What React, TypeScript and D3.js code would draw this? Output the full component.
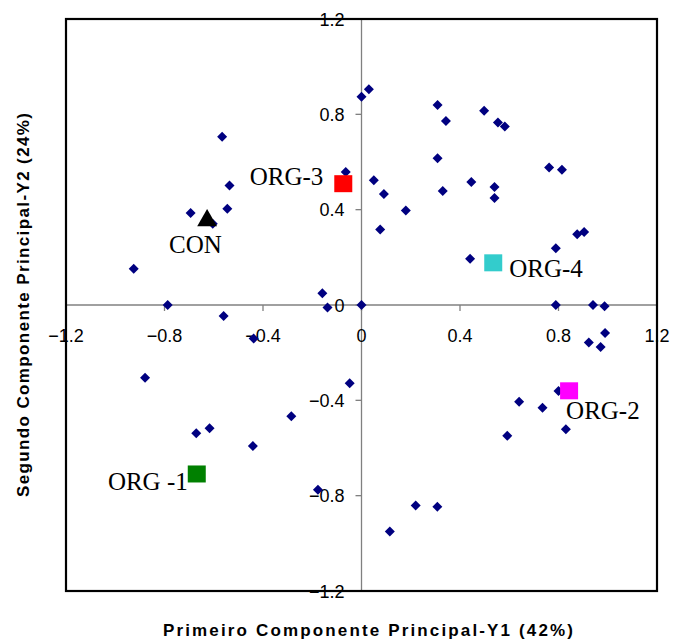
import * as d3 from 'd3';

// loadings (navy diamonds)
const loadX = [
  -0.566, -0.536, -0.545, -0.694, -0.604, -0.925, -0.787, -0.56, -0.159, -0.138,
  -0.064, 0, 0.03, 0.309, 0.343, 0.498, 0.554, 0.582, 0.309, 0.05,
  0.091, 0.18, 0.076, 0.33, 0.446, 0.54, 0.54, 0.762, 0.814, 0.876,
  0.904, 0.789, 0.441, 0, 0.789, 0.94, 0.987, -0.438, -0.879, -0.671,
  -0.617, -0.441, -0.285, -0.177, -0.048, 0.989, 0.923, 0.971, 0.8, 0.64,
  0.735, 0.83, 0.592, 0.22, 0.308, 0.115,
];
const loadY = [
  0.706, 0.501, 0.404, 0.386, 0.341, 0.152, 0, -0.046, 0.049, -0.01,
  0.558, 0.874, 0.905, 0.839, 0.772, 0.815, 0.766, 0.749, 0.616, 0.523,
  0.466, 0.396, 0.317, 0.478, 0.516, 0.495, 0.449, 0.577, 0.568, 0.297,
  0.306, 0.238, 0.194, 0, 0, 0, -0.005, -0.141, -0.305, -0.538,
  -0.517, -0.592, -0.467, -0.775, -0.328, -0.117, -0.157, -0.176, -0.361, -0.406,
  -0.431, -0.521, -0.549, -0.841, -0.846, -0.95,
];

// treatments
const groupNames = ['CON', 'ORG -1', 'ORG-2', 'ORG-3', 'ORG-4'];
const groupX = [-0.627, -0.669, 0.843, -0.074, 0.535];
const groupY = [0.359, -0.709, -0.36, 0.509, 0.177];
const groupColors = ['#000000', '#008000', '#ff00ff', '#ff0000', '#33cccc'];

const ticks = [-1.2, -0.8, -0.4, 0, 0.4, 0.8, 1.2];

const W = 674;
const H = 644;
const left = 66;
const right = 657;
const top = 19;
const bottom = 591;

export default function App() {
  const x = d3.scaleLinear().domain([-1.2, 1.2]).range([left, right]);
  const y = d3.scaleLinear().domain([-1.2, 1.2]).range([bottom, top]);
  const x0 = x(0);
  const y0 = y(0);
  const fmt = (v: number) => (v === 0 ? '0' : d3.format('.1f')(v));
  const diamond = 'M0,-5L5,0L0,5L-5,0Z';
  const tri = d3.symbol().type(d3.symbolTriangle).size(170)();

  // label placement relative to marker (dx, dy, anchor)
  const labelPos: [number, number, string][] = [
    [-38, 34, 'start'],
    [-9, 16, 'end'],
    [-3, 28, 'start'],
    [-20, 1, 'end'],
    [16, 14, 'start'],
  ];

  return (
    <svg
      width={W}
      height={H}
      viewBox={`0 0 ${W} ${H}`}
      style={{ position: 'absolute', left: 0, top: 0, background: '#fff' }}
    >
      {/* crossing axes */}
      <line x1={left} x2={right} y1={y0} y2={y0} stroke="#808080" strokeWidth={1.3} />
      <line x1={x0} x2={x0} y1={top} y2={bottom} stroke="#808080" strokeWidth={1.3} />
      {ticks.map((t) => (
        <g key={'tx' + t}>
          <line x1={x(t)} x2={x(t)} y1={y0} y2={y0 + 6} stroke="#808080" strokeWidth={1.3} />
          <line x1={x0 - 6} x2={x0} y1={y(t)} y2={y(t)} stroke="#808080" strokeWidth={1.3} />
        </g>
      ))}
      <g fontFamily="'Liberation Sans', Arial, sans-serif" fontSize={18} fill="#000">
        {ticks.map((t) => (
          <text key={'lx' + t} x={x(t)} y={y0 + 37} textAnchor="middle">
            {fmt(t)}
          </text>
        ))}
        {ticks.map((t) => (
          <text key={'ly' + t} x={x0 - 17} y={y(t) + 6.5} textAnchor="end">
            {fmt(t)}
          </text>
        ))}
      </g>

      {/* frame */}
      <rect x={left} y={top} width={right - left} height={bottom - top} fill="none" stroke="#000" strokeWidth={2.2} />

      {/* loadings */}
      {loadX.map((v, i) => (
        <path key={'p' + i} d={diamond} transform={`translate(${x(v)},${y(loadY[i])})`} fill="#000080" />
      ))}

      {/* treatments */}
      {groupNames.map((n, i) =>
        i === 0 ? (
          <path key={n} d={tri!} transform={`translate(${x(groupX[i])},${y(groupY[i]) + 1})`} fill={groupColors[i]} />
        ) : (
          <rect
            key={n}
            x={x(groupX[i]) - 9}
            y={y(groupY[i]) - 8.5}
            width={18}
            height={17}
            fill={groupColors[i]}
          />
        ),
      )}
      <g fontFamily="'Liberation Serif', 'Times New Roman', serif" fontSize={25} fill="#000">
        {groupNames.map((n, i) => (
          <text
            key={'t' + n}
            x={x(groupX[i]) + labelPos[i][0]}
            y={y(groupY[i]) + labelPos[i][1]}
            textAnchor={labelPos[i][2]}
          >
            {n}
          </text>
        ))}
      </g>

      {/* titles */}
      <g fontFamily="'Liberation Sans', Arial, sans-serif" fontSize={17} fontWeight="bold" fill="#000">
        <text x={368} y={636} textAnchor="middle" textLength={410} lengthAdjust="spacing">
          Primeiro Componente Principal-Y1 (42%)
        </text>
        <text
          transform={`translate(29,305) rotate(-90)`}
          textAnchor="middle"
          textLength={384}
          lengthAdjust="spacing"
        >
          Segundo Componente Principal-Y2 (24%)
        </text>
      </g>
    </svg>
  );
}
